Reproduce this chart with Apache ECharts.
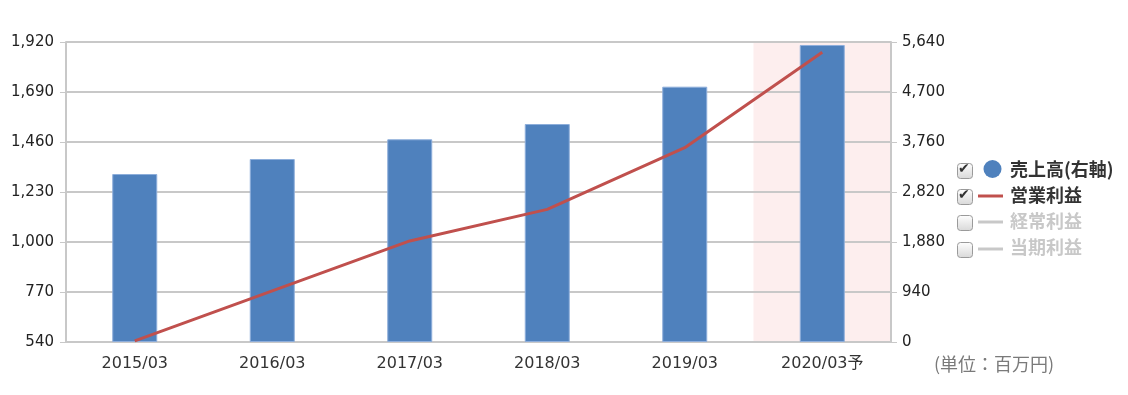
<!DOCTYPE html>
<html><head><meta charset="utf-8">
<script src="https://cdn.jsdelivr.net/npm/echarts@6/dist/echarts.min.js"></script>
<style>html,body{margin:0;padding:0;background:#fff}#c{width:1128px;height:395px}</style>
</head><body><div id="c"></div>
<script>
const categories = ['2015/03','2016/03','2017/03','2018/03','2019/03','2020/03予'];
const salesValues = [3158, 3440, 3811, 4098, 4800, 5584];      // 売上高(右軸)
const opProfitValues = [545, 775, 1005, 1150, 1434, 1873];      // 営業利益
const ordinaryProfitValues = [];                                 // 経常利益 (hidden)
const netProfitValues = [];                                      // 当期利益 (hidden)
const highlightValues = [null, null, null, null, null, 5640];    // forecast band
const leftTicks = {min: 540, max: 1920, interval: 230};
const rightTicks = {min: 0, max: 5640, interval: 940};

const FONT = "'DejaVu Sans', 'Noto Sans CJK JP', sans-serif";
const CJK = "'Noto Sans CJK JP', sans-serif";
const chart = echarts.init(document.getElementById('c'));
const fmt = v => v.toLocaleString('en-US');
const legendRows = [170, 196, 222, 249];
const checked = [true, true, false, false];
const lineIconColors = [null, '#c0504d', '#c8c8c8', '#c8c8c8'];
const graphics = [];
legendRows.forEach((y, i) => {
  graphics.push({type:'rect', left:957, top:y-7, shape:{width:15, height:15, r:3},
    style:{fill:new echarts.graphic.LinearGradient(0,0,0,1,[{offset:0,color:'#ffffff'},{offset:1,color:'#d8d8d8'}]), stroke:'#9a9a9a', lineWidth:1}});
  if (checked[i]) graphics.push({type:'text', left:958, top:y-8, style:{text:'✔', font:'bold 14px ' + FONT, fill:'#333'}});
  if (lineIconColors[i]) graphics.push({type:'rect', left:978, top:y-1.5, shape:{width:25, height:3}, style:{fill:lineIconColors[i]}});
});
graphics.push({type:'text', left:934, top:355, style:{text:'(単位：百万円)', font:'18px ' + CJK, fill:'#7a7a7a'}});

chart.setOption({
  animation:false,
  grid:{left:66, right:237, top:42, bottom:53},
  graphic: graphics,
  legend:{
    orient:'vertical', left:975, top:155, itemWidth:25, itemHeight:18, itemGap:8,
    inactiveColor:'#c8c8c8',
    textStyle:{fontFamily:CJK, fontWeight:'bold', fontSize:18, color:'#333'},
    data:[{name:'売上高(右軸)', icon:'circle', itemStyle:{color:'#4f81bd', borderWidth:0}},
          {name:'営業利益', icon:'none'}, {name:'経常利益', icon:'none'}, {name:'当期利益', icon:'none'}],
    selected:{'経常利益':false, '当期利益':false}
  },
  xAxis:[{
    type:'category', data:categories, z:1,
    axisLine:{lineStyle:{color:'#c8c8c8', width:2}},
    axisTick:{inside:true, length:9, lineStyle:{color:'#c8c8c8', width:2}},
    axisLabel:{color:'#333', fontFamily:FONT, fontSize:16, margin:14}
  },{
    type:'category', data:categories, show:false
  }],
  yAxis:[{
    type:'value', min:leftTicks.min, max:leftTicks.max, interval:leftTicks.interval, z:1,
    axisLine:{show:true, lineStyle:{color:'#c8c8c8', width:2}},
    axisTick:{show:true, length:6, lineStyle:{color:'#c8c8c8'}},
    axisLabel:{color:'#222', fontFamily:FONT, fontSize:15, margin:12, formatter:fmt},
    splitLine:{lineStyle:{color:'#c8c8c8', width:2}}
  },{
    type:'value', min:rightTicks.min, max:rightTicks.max, interval:rightTicks.interval, z:1,
    axisLine:{show:true, lineStyle:{color:'#c8c8c8', width:2}},
    axisTick:{show:true, length:6, lineStyle:{color:'#c8c8c8'}},
    axisLabel:{color:'#222', fontFamily:FONT, fontSize:15, margin:11, formatter:fmt},
    splitLine:{show:false}
  }],
  series:[
    {name:'forecast', type:'bar', xAxisIndex:1, yAxisIndex:1, data:highlightValues, barWidth:'100%',
     itemStyle:{color:'#fdeeee'}, z:0, silent:true},
    {name:'売上高(右軸)', type:'bar', yAxisIndex:1, data:salesValues, barWidth:45,
     itemStyle:{color:'#4f81bd', borderColor:'#8eaedb', borderWidth:1}, z:2},
    {name:'営業利益', type:'line', yAxisIndex:0, data:opProfitValues, symbol:'none',
     lineStyle:{color:'#c0504d', width:3}, itemStyle:{color:'#c0504d'}, z:3},
    {name:'経常利益', type:'line', data:ordinaryProfitValues, symbol:'none', lineStyle:{width:3}, itemStyle:{color:'#9bbb59'}},
    {name:'当期利益', type:'line', data:netProfitValues, symbol:'none', lineStyle:{width:3}, itemStyle:{color:'#8064a2'}}
  ]
});
</script></body></html>
